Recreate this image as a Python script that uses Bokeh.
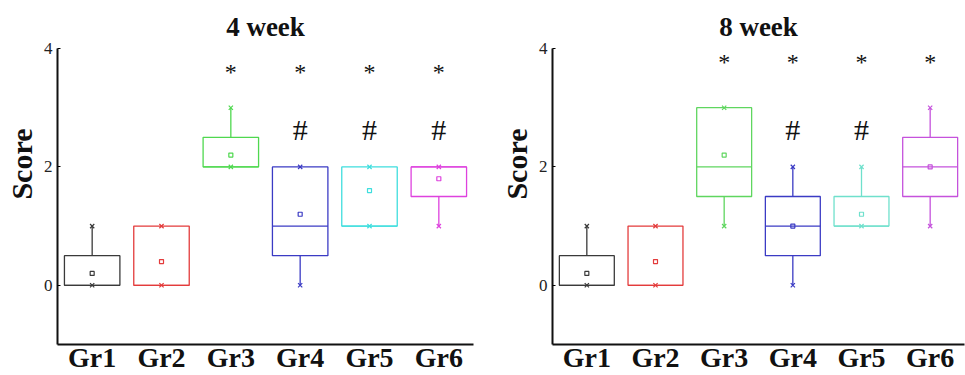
from bokeh.plotting import figure
from bokeh.models import FactorRange, Range1d, FixedTicker, ColumnDataSource, Title
from bokeh.layouts import row
from bokeh.transform import dodge
from bokeh.embed import file_html
from bokeh.resources import INLINE
from bokeh.core.properties import value

groups = ["Gr1", "Gr2", "Gr3", "Gr4", "Gr5", "Gr6"]
colors = ["#3a3a3a", "#e33b3b", "#4fd84f", "#3b3bc4", "#3fdede", "#de42de"]
colors8 = ["#3a3a3a", "#e33b3b", "#5fd65f", "#3b3bc4", "#6fe0cc", "#c552dc"]

# 4 week
q1_4 = [0, 0, 2, 0.5, 1, 1.5]
q3_4 = [0.5, 1, 2.5, 2, 2, 2]
med_4 = [0, 0, 2, 1, 1, 2]
lo_4 = [0, 0, 2, 0, 1, 1]
hi_4 = [1, 1, 3, 2, 2, 2]
mean_4 = [0.2, 0.4, 2.2, 1.2, 1.6, 1.8]
star_4 = ["", "", "*", "*", "*", "*"]
hash_4 = ["", "", "", "#", "#", "#"]

# 8 week
q1_8 = [0, 0, 1.5, 0.5, 1, 1.5]
q3_8 = [0.5, 1, 3, 1.5, 1.5, 2.5]
med_8 = [0, 0, 2, 1, 1, 2]
lo_8 = [0, 0, 1, 0, 1, 1]
hi_8 = [1, 1, 3, 2, 2, 3]
mean_8 = [0.2, 0.4, 2.2, 1.0, 1.2, 2.0]
star_8 = ["", "", "*", "*", "*", "*"]
hash_8 = ["", "", "", "#", "#", ""]

y_ticks = [0, 2, 4]
SERIF = "Liberation Serif"


def panel(title, cols, q1, q3, med, lo, hi, mean, stars, hashes, star_y, hash_y,
          width, bl, br):
    src = ColumnDataSource(dict(g=groups, c=cols, q1=q1, q3=q3, med=med, lo=lo,
                                hi=hi, mean=mean, stars=stars, hashes=hashes))
    p = figure(x_range=FactorRange(*groups), y_range=Range1d(-1, 4),
               width=width, height=375, output_backend="svg", toolbar_location=None,
               min_border_left=bl, min_border_right=br, min_border_top=48,
               min_border_bottom=26)
    p.outline_line_color = None
    p.xgrid.visible = False
    p.ygrid.visible = False

    p.vbar(x="g", bottom="q1", top="q3", width=0.8, fill_color=None,
           line_color="c", line_width=1.3, source=src)
    p.segment(x0=dodge("g", -0.4, range=p.x_range), y0="med",
              x1=dodge("g", 0.4, range=p.x_range), y1="med",
              line_color="c", line_width=1.3, source=src)
    p.segment(x0="g", y0="q3", x1="g", y1="hi", line_color="c", line_width=1.3, source=src)
    p.segment(x0="g", y0="lo", x1="g", y1="q1", line_color="c", line_width=1.3, source=src)
    p.scatter(x="g", y="hi", marker="x", size=6, line_color="c", line_width=1.2, source=src)
    p.scatter(x="g", y="lo", marker="x", size=6, line_color="c", line_width=1.2, source=src)
    p.scatter(x="g", y="mean", marker="square", size=4, fill_color=None,
              line_color="c", line_width=1.2, source=src)

    p.text(x="g", y=star_y, text="stars", text_font=value(SERIF), text_font_size="24px",
           text_align="center", text_baseline="middle", text_color="#111111", source=src)
    p.text(x="g", y=hash_y, text="hashes", text_font=value(SERIF), text_font_size="30px",
           text_align="center", text_baseline="middle", text_color="#111111", source=src)

    p.title.text = title
    p.title.align = "center"
    p.title.text_font = SERIF
    p.title.text_font_size = "27px"
    p.title.text_font_style = "bold"
    p.title.text_color = "#111111"
    p.title.standoff = 14

    xa = p.xaxis[0]
    xa.axis_line_width = 2
    xa.axis_line_color = "#111111"
    xa.major_tick_line_color = None
    xa.major_tick_out = 0
    xa.major_tick_in = 0
    xa.minor_tick_line_color = None
    xa.major_label_standoff = -3
    xa.major_label_text_font = SERIF
    xa.major_label_text_font_style = "bold"
    xa.major_label_text_font_size = "28px"
    xa.major_label_text_color = "#111111"

    ya = p.yaxis[0]
    ya.ticker = FixedTicker(ticks=y_ticks)
    ya.axis_line_width = 2
    ya.axis_line_color = "#111111"
    ya.major_tick_out = 0
    ya.major_tick_in = 3
    ya.minor_tick_line_color = None
    ya.major_label_standoff = 5
    ya.major_label_text_font = SERIF
    ya.major_label_text_font_size = "17px"
    ya.major_label_text_color = "#222222"

    p.add_layout(Title(text="Score", align="right", offset=80, standoff=5,
                       text_font=SERIF, text_font_style="bold", text_font_size="30px",
                       text_color="#111111"), "left")
    return p


p1 = panel("4 week", colors, q1_4, q3_4, med_4, lo_4, hi_4, mean_4, star_4, hash_4,
           3.6, 2.63, 480, 56, 7)
p2 = panel("8 week", colors8, q1_8, q3_8, med_8, lo_8, hi_8, mean_8, star_8, hash_8,
           3.77, 2.63, 485, 72, 1)

p = row(p1, p2)
open("out.html", "w").write(file_html(p, INLINE))
